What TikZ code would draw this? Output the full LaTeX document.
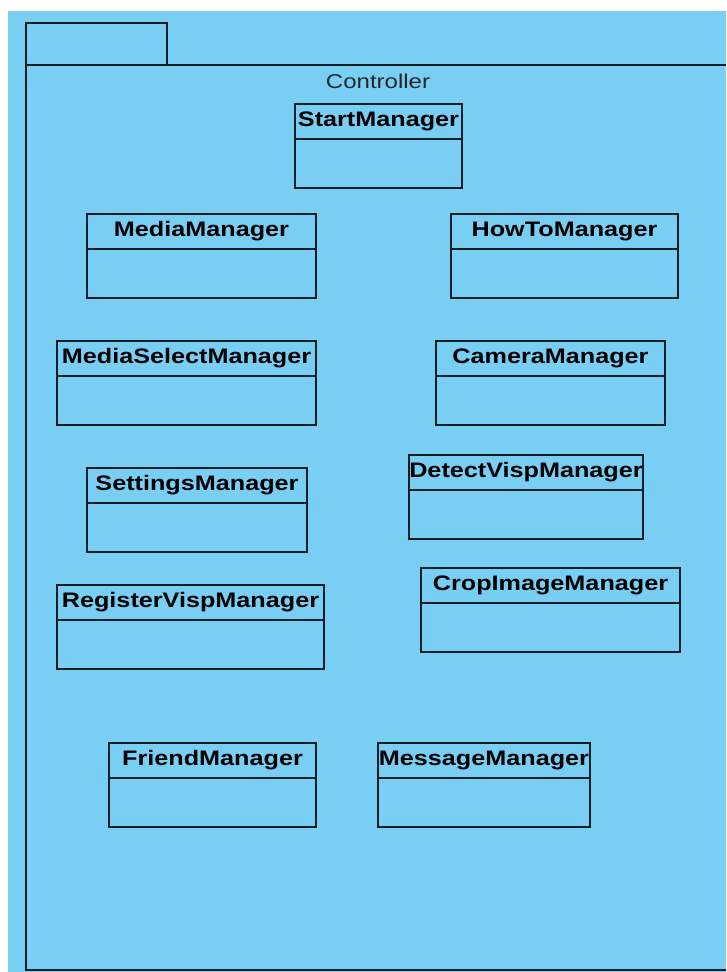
\documentclass[tikz,border=0pt]{standalone}
\usepackage{fontspec}
\newfontfamily\umlfont[FakeStretch=1.2]{Liberation Sans}
\usetikzlibrary{positioning}
\definecolor{pkgblue}{RGB}{121,206,243}
\definecolor{inkline}{RGB}{22,30,36}
\tikzset{
  x=1pt, y=-1pt,
  frame/.style={draw=inkline, line width=1.6pt},
  classhead/.style={frame, rectangle, anchor=north west, minimum height=35pt,
    inner sep=0pt, outer sep=0pt, font=\umlfont\fontsize{21}{24}\selectfont\bfseries, text=black},
  classbody/.style={frame, rectangle, minimum height=49pt, inner sep=0pt, outer sep=0pt, below=0pt of #1},
  pkglabel/.style={font=\umlfont\fontsize{20}{24}\selectfont, text=black!85, inner sep=0pt, anchor=base}
}
\begin{document}
\begin{tikzpicture}
\useasboundingbox (0,0) rectangle (726,972);
\fill[white] (0,0) rectangle (726,972);
% package background
\fill[pkgblue] (8,11) rectangle (726,972);
% package tab and outline
\draw[frame] (26,65) rectangle (167,23);
\draw[frame] (726,65) -- (26,65) -- (26,970) -- (726,970);
\node[pkglabel] (pkgname) at (378,88.5) {Controller};

% classes
\node[classhead, minimum width=167pt] (start) at (295,104) {StartManager};
\node[classbody=start, minimum width=167pt] (startb) {};

\node[classhead, minimum width=229pt] (media) at (87,214) {MediaManager};
\node[classbody=media, minimum width=229pt] (mediab) {};

\node[classhead, minimum width=227pt] (howto) at (451,214) {HowToManager};
\node[classbody=howto, minimum width=227pt] (howtob) {};

\node[classhead, minimum width=259pt] (mselect) at (57,341) {MediaSelectManager};
\node[classbody=mselect, minimum width=259pt] (mselectb) {};

\node[classhead, minimum width=229pt] (camera) at (436,341) {CameraManager};
\node[classbody=camera, minimum width=229pt] (camerab) {};

\node[classhead, minimum width=220pt] (settings) at (87,468) {SettingsManager};
\node[classbody=settings, minimum width=220pt] (settingsb) {};

\node[classhead, minimum width=234pt] (detect) at (409,455) {DetectVispManager};
\node[classbody=detect, minimum width=234pt] (detectb) {};

\node[classhead, minimum width=267pt] (register) at (57,585) {RegisterVispManager};
\node[classbody=register, minimum width=267pt] (registerb) {};

\node[classhead, minimum width=259pt] (crop) at (421,568) {CropImageManager};
\node[classbody=crop, minimum width=259pt] (cropb) {};

\node[classhead, minimum width=207pt] (friend) at (109,743) {FriendManager};
\node[classbody=friend, minimum width=207pt] (friendb) {};

\node[classhead, minimum width=212pt] (message) at (378,743) {MessageManager};
\node[classbody=message, minimum width=212pt] (messageb) {};
\end{tikzpicture}
\end{document}
